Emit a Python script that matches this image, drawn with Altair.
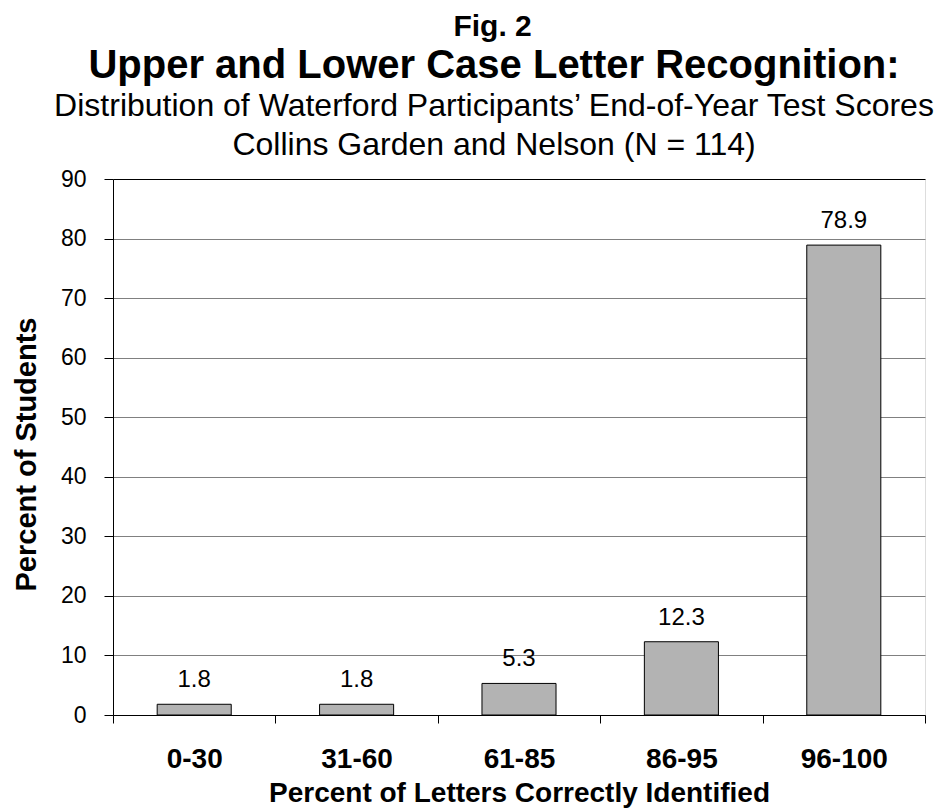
import altair as alt
import pandas as pd

# Score bands and the share of students in each band
categories = ["0-30", "31-60", "61-85", "86-95", "96-100"]
percent_students = [1.8, 1.8, 5.3, 12.3, 78.9]
y_ticks = [0, 10, 20, 30, 40, 50, 60, 70, 80, 90]

df = pd.DataFrame({"range": categories, "pct": percent_students})

FONT = "Liberation Sans"

x_enc = alt.X(
    "range:N",
    sort=categories,
    title="Percent of Letters Correctly Identified",
    scale=alt.Scale(paddingInner=0, paddingOuter=0),
    axis=alt.Axis(
        labelAngle=0,
        tickBand="extent",
        tickSize=8,
        tickColor="black",
        domainColor="black",
        labelFont=FONT,
        labelFontSize=28,
        labelFontWeight="bold",
        labelColor="black",
        labelPadding=22,
        titleFont=FONT,
        titleFontSize=28,
        titleFontWeight="bold",
        titleColor="black",
        titlePadding=6,
        grid=False,
    ),
)

y_enc = alt.Y(
    "pct:Q",
    scale=alt.Scale(domain=[0, 90], nice=False),
    title="Percent of Students",
    axis=alt.Axis(
        values=y_ticks,
        tickSize=9,
        tickColor="black",
        domainColor="black",
        labelFont=FONT,
        labelFontSize=23,
        labelColor="black",
        labelPadding=18,
        titleFont=FONT,
        titleFontSize=29,
        titleFontWeight="bold",
        titleColor="black",
        titlePadding=19,
        titleY=275,
        grid=True,
        gridColor={"condition": {"test": "datum.value === 90", "value": "black"}, "value": "#808080"},
        gridWidth=1,
    ),
)

bars = alt.Chart(df).mark_bar(
    width=alt.RelativeBandSize(0.456),
    color="#b3b3b3",
    stroke="black",
    strokeWidth=1,
).encode(x=x_enc, y=y_enc)

value_labels = alt.Chart(df).mark_text(
    baseline="alphabetic",
    dy=-17,
    font=FONT,
    fontSize=24,
    color="black",
).encode(
    x=alt.X("range:N", sort=categories),
    y=alt.Y("pct:Q"),
    text=alt.Text("pct:Q", format=".1f"),
)

plot = alt.layer(bars, value_labels).properties(
    width=812,
    height=536,
    title=alt.Title(
        "Upper and Lower Case Letter Recognition:",
        subtitle=[
            "Distribution of Waterford Participants\u2019 End-of-Year Test Scores",
            "Collins Garden and Nelson (N = 114)",
        ],
        font=FONT,
        fontSize=40,
        fontWeight="bold",
        color="black",
        subtitleFont=FONT,
        subtitleFontSize=32,
        subtitleColor="black",
        subtitleLineHeight=39,
        subtitlePadding=5,
        anchor="middle",
        dx=-25,
        offset=7,
    ),
)

chart = alt.vconcat(
    plot,
    title=alt.Title(
        "Fig. 2",
        font=FONT,
        fontSize=30,
        fontWeight="bold",
        color="black",
        anchor="middle",
        dx=19,
        offset=4,
    ),
).configure_view(
    stroke="black", strokeWidth=1
).configure(
    background="white",
    padding={"left": 11, "top": 11, "right": 0, "bottom": 0},
)

chart.save("out.html", embed_options={"renderer": "svg", "actions": False})
